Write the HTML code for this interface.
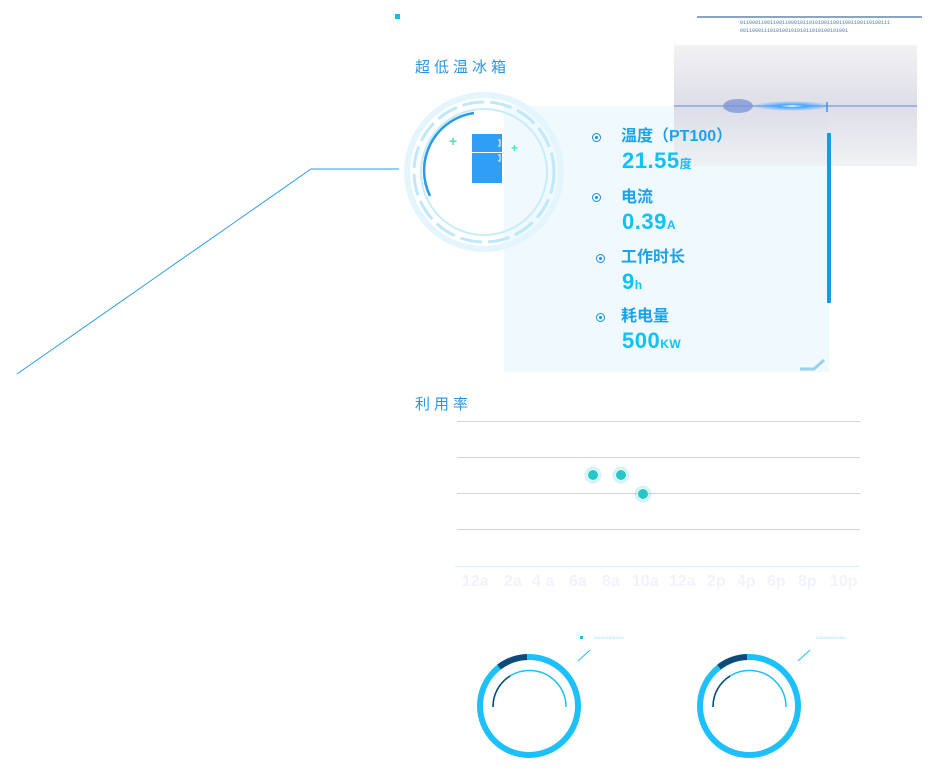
<!DOCTYPE html>
<html><head><meta charset="utf-8"><style>
body{margin:0;width:945px;height:781px;background:#fff;position:relative;overflow:hidden;font-family:"Liberation Sans","Noto Sans CJK SC",sans-serif}
.a{position:absolute}
.lab{color:#1aa3e8;font-size:16px;font-weight:bold;position:absolute;left:621px;font-family:"Liberation Sans","Noto Sans CJK SC",sans-serif;line-height:20px}
.val{color:#0fc2f5;font-size:22px;font-weight:bold;position:absolute;left:622px;line-height:24px;letter-spacing:0.5px}
.val small{font-size:12px}
.dot{position:absolute;width:9px;height:9px;border:1.5px solid #1a8fd8;border-radius:50%;box-sizing:border-box}
.dot:after{content:"";position:absolute;left:1.5px;top:1.5px;width:3px;height:3px;border-radius:50%;background:#1a8fd8}
</style></head><body>
<svg class="a" style="left:0;top:0" width="945" height="781">
<defs>
<radialGradient id="gl" cx="0.5" cy="0.5" r="0.5"><stop offset="0" stop-color="#fff"/><stop offset="0.3" stop-color="#4aa8ff"/><stop offset="1" stop-color="#4aa8ff" stop-opacity="0"/></radialGradient>
<linearGradient id="gb" x1="0" x2="0" y1="0" y2="1"><stop offset="0" stop-color="#f0f0f2"/><stop offset="0.5" stop-color="#d8d8e4"/><stop offset="1" stop-color="#eef0f2"/></linearGradient>
</defs>
<polyline points="17,374 311,169 399,169" fill="none" stroke="#2a9de8" stroke-width="1"/>
<rect x="395" y="14" width="5" height="5" fill="#1ab8f0"/>
<line x1="697" y1="17" x2="922" y2="17" stroke="#1a4a8a" stroke-width="1"/>
<rect x="504" y="106" width="325" height="266" fill="#eef8fd" opacity="0.9"/>
<rect x="674" y="45" width="243" height="121" fill="url(#gb)" opacity="0.85"/>
<line x1="674" y1="106" x2="917" y2="106" stroke="#8aa6d8" stroke-width="1.5"/>
<ellipse cx="738" cy="106" rx="15" ry="7" fill="#7f96d8" opacity="0.8"/>
<ellipse cx="792" cy="106" rx="40" ry="5" fill="url(#gl)"/>
<line x1="827" y1="102" x2="827" y2="112" stroke="#4a90e0" stroke-width="1.5"/>
<rect x="827" y="133" width="4" height="170" fill="#1a9ae0"/>
<path d="M800 369 L814 369 L824 360" fill="none" stroke="#9ad0ee" stroke-width="3"/>
<circle cx="484" cy="172" r="77" fill="none" stroke="#e4f5fd" stroke-width="6"/>
<circle cx="484" cy="172" r="70" fill="none" stroke="#bfe8fb" stroke-width="3" stroke-dasharray="22 6"/>
<circle cx="484" cy="172" r="63" fill="none" stroke="#c8ecfb" stroke-width="2"/>
<path d="M474 113 A58 58 0 0 0 430 196" fill="none" stroke="#2a9ae8" stroke-width="2.5"/>
<rect x="472" y="134" width="30" height="18" fill="#2e9ff5"/>
<rect x="472" y="153" width="30" height="30" fill="#2e9ff5"/>
<path d="M498 140 l2 0 l0 6 l-2 0 M498 155 l2 0 l0 6 l-2 0" stroke="#fff" fill="none" stroke-width="1"/>
<text x="449" y="146" fill="#4ee0b8" font-size="14" font-weight="bold">+</text>
<text x="511" y="152" fill="#4ee0b8" font-size="12" font-weight="bold">+</text>
<g stroke="#d4d4d8" stroke-width="1"><line x1="457" y1="421.5" x2="860" y2="421.5"/><line x1="457" y1="457.5" x2="860" y2="457.5"/><line x1="457" y1="493.5" x2="860" y2="493.5"/><line x1="457" y1="529.5" x2="860" y2="529.5"/></g>
<line x1="455" y1="566.5" x2="860" y2="566.5" stroke="#d8f2fc"/>
<g fill="#26c6c6"><circle cx="593" cy="475" r="5"/><circle cx="621" cy="475" r="5"/><circle cx="643" cy="494" r="5"/></g>
<g fill="none" stroke="#26c6c6" stroke-opacity="0.2" stroke-width="3"><circle cx="593" cy="475" r="7"/><circle cx="621" cy="475" r="7"/><circle cx="643" cy="494" r="7"/></g>
<g fill="#f0f3fb" font-size="16" font-weight="bold" font-family="Liberation Sans"><text x="462" y="586">12a</text><text x="504" y="586">2a</text><text x="532" y="586">4 a</text><text x="569" y="586">6a</text><text x="602" y="586">8a</text><text x="632" y="586">10a</text><text x="669" y="586">12a</text><text x="707" y="586">2p</text><text x="737" y="586">4p</text><text x="767" y="586">6p</text><text x="798" y="586">8p</text><text x="830" y="586">10p</text></g>
<g id="g1">
<circle cx="529" cy="706" r="49" fill="none" stroke="#1ec0fa" stroke-width="6"/>
<path d="M499 667 A49 49 0 0 1 527 657" fill="none" stroke="#0d4a7a" stroke-width="6"/>
<path d="M493 707 A36 36 0 0 1 566 707" fill="none" stroke="#1ec0fa" stroke-width="1.5"/>
<path d="M493 707 A36 36 0 0 1 510 676" fill="none" stroke="#0d4a7a" stroke-width="1.5"/>
<line x1="578" y1="661" x2="590" y2="650" stroke="#1ec0fa"/>
</g>
<use href="#g1" x="220"/>
<rect x="580" y="636" width="3" height="3" fill="#1ec0fa"/>
<text x="594" y="639" fill="#8fdcf8" font-size="4">01100110011011</text>
<text x="816" y="639" fill="#8fdcf8" font-size="4">01100110011011</text>
<text x="740" y="24" fill="#4a7aa8" font-size="5" font-family="Liberation Mono">01100011001100110001011010100110011001100110100111</text>
<text x="740" y="32" fill="#4a7aa8" font-size="5" font-family="Liberation Mono">001100011101010010101011010100101001</text>
</svg>
<div class="a" style="left:415px;top:56px;color:#2a96e0;font-size:15px;letter-spacing:4px">超低温冰箱</div>
<div class="a" style="left:415px;top:393px;color:#2a96e0;font-size:15px;letter-spacing:4px">利用率</div>
<div class="dot" style="left:592px;top:133px"></div>
<div class="dot" style="left:592px;top:193px"></div>
<div class="dot" style="left:596px;top:254px"></div>
<div class="dot" style="left:596px;top:313px"></div>
<div class="lab" style="top:127px">温度（PT100）</div>
<div class="val" style="top:149px">21.55<small>度</small></div>
<div class="lab" style="top:188px">电流</div>
<div class="val" style="top:210px">0.39<small>A</small></div>
<div class="lab" style="top:248px">工作时长</div>
<div class="val" style="top:270px">9<small>h</small></div>
<div class="lab" style="top:307px">耗电量</div>
<div class="val" style="top:329px">500<small>KW</small></div>
</body></html>
